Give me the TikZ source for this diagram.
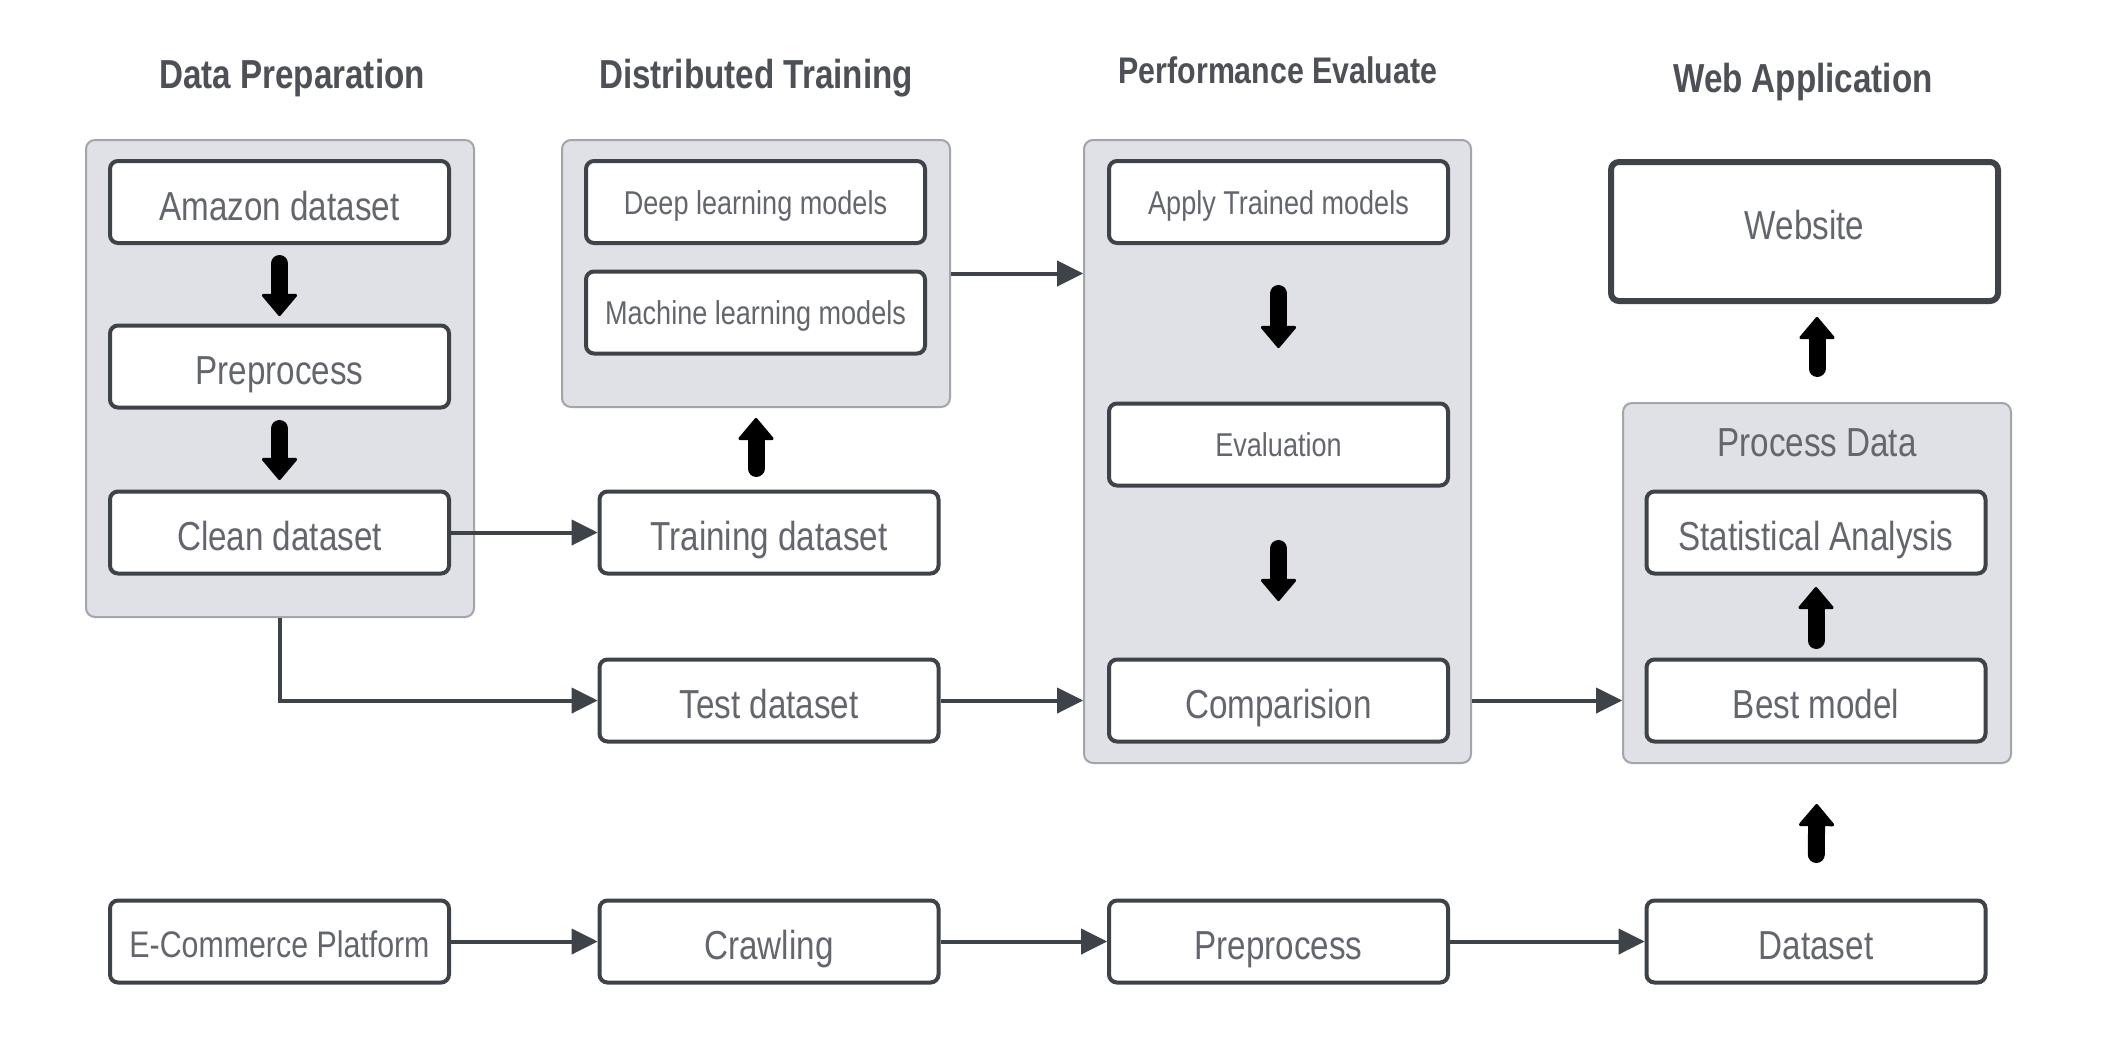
\documentclass[tikz,border=0pt]{standalone}
\usepackage{fontspec}
\setmainfont{Liberation Sans}[FakeStretch=0.82]
\usetikzlibrary{arrows.meta}
\definecolor{cfill}{HTML}{DFE1E6}
\definecolor{cborder}{HTML}{A2A5AB}
\definecolor{bborder}{HTML}{3E434A}
\definecolor{btext}{HTML}{63666D}
\definecolor{ttext}{HTML}{4D5057}
\begin{document}
\begin{tikzpicture}[x=1pt,y=-1pt,
  container/.style={draw=cborder, fill=cfill, line width=2pt, rounded corners=9pt, inner sep=0pt},
  box/.style={draw=bborder, fill=white, line width=4pt, rounded corners=8pt, inner sep=0pt,
    text=btext, text depth=0pt, minimum width=339pt, minimum height=82pt},
  big/.style={font=\fontsize{40.5}{44}\selectfont, text height=36pt},
  small/.style={font=\fontsize{33}{36}\selectfont, text height=24pt},
  ttl/.style={font=\bfseries\fontsize{40.5}{44}\selectfont, text=ttext, text height=29pt, text depth=0pt, inner sep=0pt},
  blk/.style={black, line width=17pt, line cap=round, -{Triangle[length=23pt,width=38pt,line width=3pt,round]}},
  conn/.style={draw=bborder, line width=4pt, -{Triangle[length=26pt,width=26pt,line width=1pt]}}
]
\fill[white] (0,0) rectangle (2110,1050);
\useasboundingbox (0,0) rectangle (2110,1050);

% titles
\node[ttl] (t1) at (292,74) {Data Preparation};
\node[ttl] (t2) at (756,74) {Distributed Training};
\node[ttl, font=\bfseries\fontsize{37}{40}\selectfont, text height=26.5pt] (t3) at (1278,70) {Performance Evaluate};
\node[ttl] (t4) at (1803,78) {Web Application};

% containers
\node[container, minimum width=388pt, minimum height=477pt] (dp) at (280,378.5) {};
\node[container, minimum width=388pt, minimum height=267pt] (dt) at (756,273.5) {};
\node[container, minimum width=387pt, minimum height=623pt] (pe) at (1277.5,451.5) {};
\node[container, minimum width=388pt, minimum height=360pt] (pd) at (1817,583) {};
\node[inner sep=0pt, text=btext, font=\fontsize{40.5}{44}\selectfont, text height=29pt, text depth=0pt] (pdl) at (1817,442) {Process Data};

% boxes
\node[box, big] (amz) at (279.5,202) {Amazon dataset};
\node[box, big] (pre1) at (279.5,366.5) {Preprocess};
\node[box, big] (clean) at (279.5,532.5) {Clean dataset};
\node[box, small] (deep) at (755.5,202) {Deep learning models};
\node[box, small] (mach) at (755.5,312.5) {Machine learning models};
\node[box, big] (train) at (769,532.5) {Training dataset};
\node[box, big] (test) at (769,700.5) {Test dataset};
\node[box, small] (apply) at (1278.5,202) {Apply Trained models};
\node[box, small] (eval) at (1278.5,444.5) {Evaluation};
\node[box, big] (cmp) at (1278.5,700.5) {Comparision};
\node[box, big, text height=29pt, text depth=14pt, line width=6pt, minimum width=387pt, minimum height=139pt] (web) at (1804.5,231.5) {Website};
\node[box, big] (stat) at (1816,532.5) {Statistical Analysis};
\node[box, big] (best) at (1816,700.5) {Best model};
\node[box, font=\fontsize{37}{40}\selectfont, text height=31pt] (ec) at (279.5,941.5) {E-Commerce Platform};
\node[box, big] (crawl) at (769,941.5) {Crawling};
\node[box, big] (pre2) at (1278.5,941.5) {Preprocess};
\node[box, big] (ds) at (1816,941.5) {Dataset};

% block arrows
\draw[blk, shorten <=18.5pt, shorten >=7.5pt] (amz.south) -- (pre1.north);
\draw[blk, shorten <=19pt, shorten >=9.5pt] (pre1.south) -- (clean.north);
\draw[blk, shorten <=21pt, shorten >=10pt] (dt.south |- train.north) -- (dt.south);
\draw[blk, shorten <=48.5pt, shorten >=53.5pt] (apply.south) -- (eval.north);
\draw[blk, shorten <=61pt, shorten >=56.5pt] (eval.south) -- (cmp.north);
\draw[blk, shorten <=17pt, shorten >=11.5pt] (best.north) -- (stat.south);
\draw[blk, shorten <=33.5pt, shorten >=13pt] (pd.north) -- (pd.north |- web.south);
\draw[blk, shorten <=44pt, shorten >=40pt] (ds.north) -- (pd.south);

% thin connectors
\draw[conn] (clean.east) -- (train.west);
\draw[conn] (dt.east) -- (dt.east -| pe.west);
\draw[conn] (dp.south) |- (test.west);
\draw[conn] (test.east) -- (test.east -| pe.west);
\draw[conn] (pe.east |- cmp.east) -- (pd.west |- cmp.east);
\draw[conn] (ec.east) -- (crawl.west);
\draw[conn] (crawl.east) -- (pre2.west);
\draw[conn] (pre2.east) -- (ds.west);
\end{tikzpicture}
\end{document}
